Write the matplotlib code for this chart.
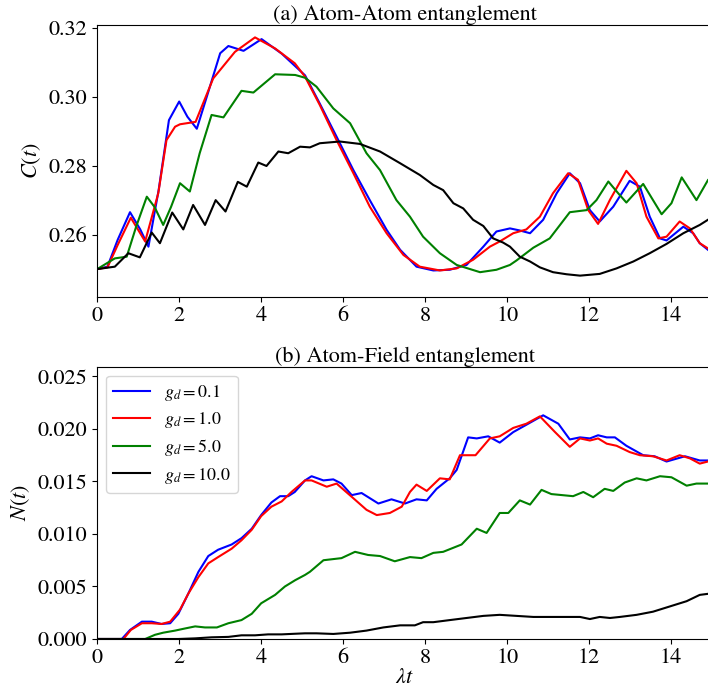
import matplotlib
matplotlib.use('Agg')
import matplotlib.pyplot as plt

plt.rcParams['font.family'] = 'STIXGeneral'
plt.rcParams['mathtext.fontset'] = 'stix'

# (a) Atom-Atom entanglement C(t)
t_c1 = [0, 0.25, 0.5, 0.8, 1.05, 1.25, 1.5, 1.75, 2.0, 2.2, 2.43, 2.7, 3.0, 3.2, 3.57, 4.01, 4.5,
        5.07, 5.43, 5.84, 6.25, 6.65, 7.06, 7.39, 7.79, 8.2, 8.6, 9.01, 9.42, 9.74, 10.07, 10.31,
        10.56, 10.88, 11.21, 11.53, 11.78, 12.02, 12.26, 12.59, 12.99, 13.24, 13.48, 13.73, 13.89,
        14.3, 14.54, 14.7, 14.9]
c1 = [0.25, 0.2507, 0.2585, 0.2665, 0.2615, 0.2565, 0.273, 0.2932, 0.2986, 0.2942, 0.2907, 0.301,
      0.3126, 0.3147, 0.3133, 0.3167, 0.3125, 0.3062, 0.298, 0.2884, 0.2787, 0.27, 0.2614, 0.2556,
      0.2507, 0.2496, 0.2498, 0.2512, 0.2565, 0.2609, 0.2618, 0.2612, 0.2604, 0.2643, 0.272, 0.2778,
      0.2749, 0.2671, 0.2638, 0.2681, 0.2756, 0.2739, 0.2652, 0.2589, 0.2583, 0.2623, 0.2604,
      0.2575, 0.2556]

t_c2 = [0, 0.25, 0.5, 0.82, 1.17, 1.49, 1.69, 1.9, 2.02, 2.4, 2.83, 3.36, 3.85, 4.34, 4.82, 5.07,
        5.43, 5.84, 6.25, 6.65, 7.06, 7.47, 7.87, 8.36, 8.77, 9.17, 9.58, 9.82, 10.15, 10.47, 10.8,
        11.12, 11.49, 11.73, 11.98, 12.22, 12.51, 12.91, 13.16, 13.4, 13.69, 13.89, 14.21, 14.46,
        14.7, 14.9]
c2 = [0.25, 0.2505, 0.257, 0.2649, 0.258, 0.272, 0.2874, 0.2913, 0.292, 0.2927, 0.3053, 0.313,
      0.3172, 0.314, 0.3097, 0.3058, 0.2976, 0.2874, 0.2778, 0.2681, 0.2604, 0.2541, 0.2507,
      0.2496, 0.2502, 0.2527, 0.2565, 0.258, 0.2604, 0.2615, 0.2652, 0.272, 0.2778, 0.2759,
      0.2671, 0.2631, 0.2701, 0.2785, 0.2749, 0.2652, 0.2589, 0.2594, 0.2638, 0.2618, 0.2575, 0.256]

t_c3 = [0, 0.43, 0.72, 0.95, 1.21, 1.4, 1.61, 1.8, 2.02, 2.26, 2.5, 2.79, 3.08, 3.52, 3.81, 4.34,
        4.83, 5.07, 5.35, 5.76, 6.17, 6.57, 6.9, 7.3, 7.63, 7.95, 8.36, 8.77, 9.34, 9.74, 10.07,
        10.23, 10.64, 11.04, 11.53, 11.94, 12.18, 12.47, 12.71, 12.91, 13.32, 13.77, 14.01, 14.26,
        14.62, 14.9]
c3 = [0.25, 0.2531, 0.2536, 0.2623, 0.271, 0.268, 0.2628, 0.268, 0.2749, 0.2725, 0.2836, 0.2947,
      0.294, 0.3017, 0.3012, 0.3065, 0.3063, 0.3055, 0.3029, 0.2966, 0.2923, 0.2836, 0.2787, 0.27,
      0.2652, 0.2594, 0.2546, 0.2512, 0.2491, 0.2498, 0.2512, 0.2525, 0.2562, 0.2589, 0.2665,
      0.2671, 0.27, 0.2754, 0.272, 0.2693, 0.2747, 0.2659, 0.2691, 0.2766, 0.27, 0.2758]

t_c4 = [0, 0.43, 0.76, 1.04, 1.33, 1.53, 1.83, 2.1, 2.34, 2.63, 2.89, 3.13, 3.43, 3.65, 3.93, 4.13,
        4.42, 4.66, 4.95, 5.19, 5.43, 5.92, 6.41, 6.9, 7.39, 7.87, 8.2, 8.44, 8.69, 8.93, 9.17, 9.42,
        9.66, 9.9, 10.07, 10.31, 10.56, 10.8, 11.12, 11.45, 11.78, 12.26, 12.67, 13.08, 13.48, 13.89,
        14.3, 14.7, 14.9]
c4 = [0.25, 0.2507, 0.2546, 0.2534, 0.2606, 0.2575, 0.2664, 0.2615, 0.2686, 0.2628, 0.27, 0.2667,
      0.2753, 0.2739, 0.2809, 0.2799, 0.2841, 0.2836, 0.2855, 0.2853, 0.2865, 0.287, 0.2863,
      0.2841, 0.2807, 0.2773, 0.2744, 0.2729, 0.2691, 0.2676, 0.2643, 0.2625, 0.2589, 0.2577,
      0.2565, 0.2536, 0.2522, 0.2505, 0.2491, 0.2485, 0.2481, 0.2486, 0.2502, 0.2522, 0.2546,
      0.2573, 0.2604, 0.2628, 0.2643]

# (b) Atom-Field entanglement N(t)
t_n1 = [0, 0.6, 0.8, 1.09, 1.33, 1.57, 1.78, 1.98, 2.22, 2.47, 2.71, 2.95, 3.28, 3.52, 3.77, 4.0,
        4.25, 4.46, 4.66, 4.82, 5.07, 5.23, 5.52, 5.76, 5.96, 6.21, 6.45, 6.86, 7.18, 7.51, 7.79,
        8.04, 8.28, 8.6, 8.77, 9.05, 9.26, 9.54, 9.82, 10.15, 10.47, 10.88, 11.25, 11.53, 11.78,
        12.02, 12.22, 12.43, 12.63, 12.91, 13.32, 13.6, 13.89, 14.34, 14.7, 14.9]
n1 = [0, 0, 0.00086, 0.00165, 0.00165, 0.00143, 0.0015, 0.0024, 0.0043, 0.0064, 0.0079, 0.0085,
      0.009, 0.0096, 0.0105, 0.0118, 0.013, 0.0136, 0.0136, 0.014, 0.0151, 0.0155, 0.0151, 0.0152,
      0.0148, 0.0137, 0.0139, 0.0129, 0.0133, 0.0129, 0.0133, 0.0132, 0.0143, 0.0153, 0.0161,
      0.0192, 0.0191, 0.0193, 0.0187, 0.0197, 0.0204, 0.0213, 0.0205, 0.019, 0.0192, 0.0191,
      0.0194, 0.0192, 0.0192, 0.0184, 0.0175, 0.0174, 0.0169, 0.0174, 0.017, 0.017]

t_n2 = [0, 0.64, 0.82, 1.09, 1.33, 1.57, 1.78, 2.02, 2.22, 2.47, 2.71, 2.95, 3.28, 3.52, 3.77, 4.0,
        4.25, 4.5, 4.74, 5.07, 5.23, 5.6, 5.84, 6.25, 6.57, 6.82, 7.14, 7.43, 7.63, 7.79, 8.04, 8.36,
        8.6, 8.85, 9.23, 9.58, 9.82, 10.15, 10.47, 10.8, 11.17, 11.53, 11.78, 12.02, 12.22, 12.43,
        12.67, 12.99, 13.24, 13.56, 13.89, 14.21, 14.46, 14.7, 14.9]
n2 = [0, 0, 0.00086, 0.0015, 0.0015, 0.00143, 0.00165, 0.0028, 0.0043, 0.0059, 0.0072, 0.0078,
      0.0086, 0.0094, 0.0104, 0.0117, 0.0126, 0.0131, 0.014, 0.0151, 0.0151, 0.0145, 0.0148,
      0.0134, 0.0123, 0.0118, 0.012, 0.0126, 0.014, 0.0147, 0.0141, 0.0153, 0.0152, 0.0175,
      0.0175, 0.0191, 0.0193, 0.0201, 0.0205, 0.0212, 0.0197, 0.0183, 0.0191, 0.0189, 0.0191,
      0.0186, 0.0184, 0.0178, 0.0175, 0.0174, 0.017, 0.0175, 0.0172, 0.0167, 0.0169]

t_n3 = [0, 1.17, 1.41, 1.61, 1.9, 2.14, 2.39, 2.63, 2.92, 3.2, 3.52, 3.77, 4.0, 4.34, 4.58, 4.83,
        5.07, 5.19, 5.52, 5.96, 6.29, 6.61, 6.9, 7.26, 7.63, 7.91, 8.2, 8.44, 8.89, 9.26, 9.5, 9.82,
        10.03, 10.31, 10.56, 10.84, 11.08, 11.61, 11.86, 12.1, 12.38, 12.59, 12.87, 13.16, 13.4,
        13.73, 14.01, 14.38, 14.62, 14.9]
n3 = [0, 0, 0.0004, 0.0006, 0.0008, 0.001, 0.0012, 0.0011, 0.0011, 0.0015, 0.0018, 0.0024, 0.0034,
      0.0042, 0.005, 0.0056, 0.0061, 0.0064, 0.0075, 0.0077, 0.0083, 0.008, 0.0079, 0.0074,
      0.0078, 0.0077, 0.0082, 0.0083, 0.009, 0.0105, 0.0101, 0.012, 0.012, 0.0132, 0.0128,
      0.0142, 0.0138, 0.0136, 0.014, 0.0135, 0.0143, 0.0141, 0.0149, 0.0153, 0.0151, 0.0155,
      0.0154, 0.0146, 0.0148, 0.0148]

t_n4 = [0, 1.98, 2.39, 2.79, 3.2, 3.52, 3.85, 4.17, 4.5, 4.83, 5.07, 5.35, 5.76, 6.17, 6.57, 6.98,
        7.39, 7.75, 7.95, 8.2, 8.6, 9.01, 9.42, 9.82, 10.23, 10.64, 11.04, 11.45, 11.78, 12.02,
        12.26, 12.51, 12.75, 13.16, 13.56, 13.97, 14.38, 14.7, 14.9]
n4 = [0, 0, 0.00006, 0.00016, 0.0002, 0.00035, 0.00035, 0.00044, 0.00044, 0.0005, 0.00054,
      0.00054, 0.00048, 0.0006, 0.0008, 0.0011, 0.0013, 0.0013, 0.0016, 0.0016, 0.0018, 0.002,
      0.0022, 0.0023, 0.0022, 0.0021, 0.0021, 0.0021, 0.0021, 0.0019, 0.0021, 0.002, 0.0021,
      0.0023, 0.0026, 0.0031, 0.0036, 0.0042, 0.0043]

labels = ['$g_d = 0.1$', '$g_d = 1.0$', '$g_d = 5.0$', '$g_d = 10.0$']
colors = ['blue', 'red', 'green', 'black']

fig = plt.figure(figsize=(7.08, 6.92), dpi=100)
ax1 = fig.add_axes([0.1373, 0.5708, 0.8684, 0.3931])
ax2 = fig.add_axes([0.1373, 0.0766, 0.8684, 0.3935])

for t, c, col in zip([t_c1, t_c2, t_c3, t_c4], [c1, c2, c3, c4], colors):
    ax1.plot(t, c, color=col, lw=1.5)
ax1.set_xlim(0, 15)
ax1.set_ylim(0.2419, 0.3208)
ax1.set_yticks([0.26, 0.28, 0.30, 0.32])
ax1.set_yticklabels(['0.26', '0.28', '0.30', '0.32'])
ax1.set_xticks([0, 2, 4, 6, 8, 10, 12, 14])
ax1.set_ylabel('$C(t)$', fontsize=16)
ax1.set_title('(a) Atom-Atom entanglement', fontsize=16, pad=3)
ax1.tick_params(labelsize=16)

for t, n, col, lab in zip([t_n1, t_n2, t_n3, t_n4], [n1, n2, n3, n4], colors, labels):
    ax2.plot(t, n, color=col, lw=1.5, label=lab)
ax2.set_xlim(0, 15)
ax2.set_ylim(0, 0.02593)
ax2.set_yticks([0, 0.005, 0.01, 0.015, 0.02, 0.025])
ax2.set_yticklabels(['0.000', '0.005', '0.010', '0.015', '0.020', '0.025'])
ax2.set_xticks([0, 2, 4, 6, 8, 10, 12, 14])
ax2.set_ylabel('$N(t)$', fontsize=16)
ax2.set_xlabel('$\\lambda t$', fontsize=16, labelpad=0)
ax2.set_title('(b) Atom-Field entanglement', fontsize=16, pad=3)
ax2.tick_params(labelsize=16)
ax2.legend(loc='upper left', fontsize=13, labelspacing=0.4)

plt.savefig('out.png', dpi=100)
